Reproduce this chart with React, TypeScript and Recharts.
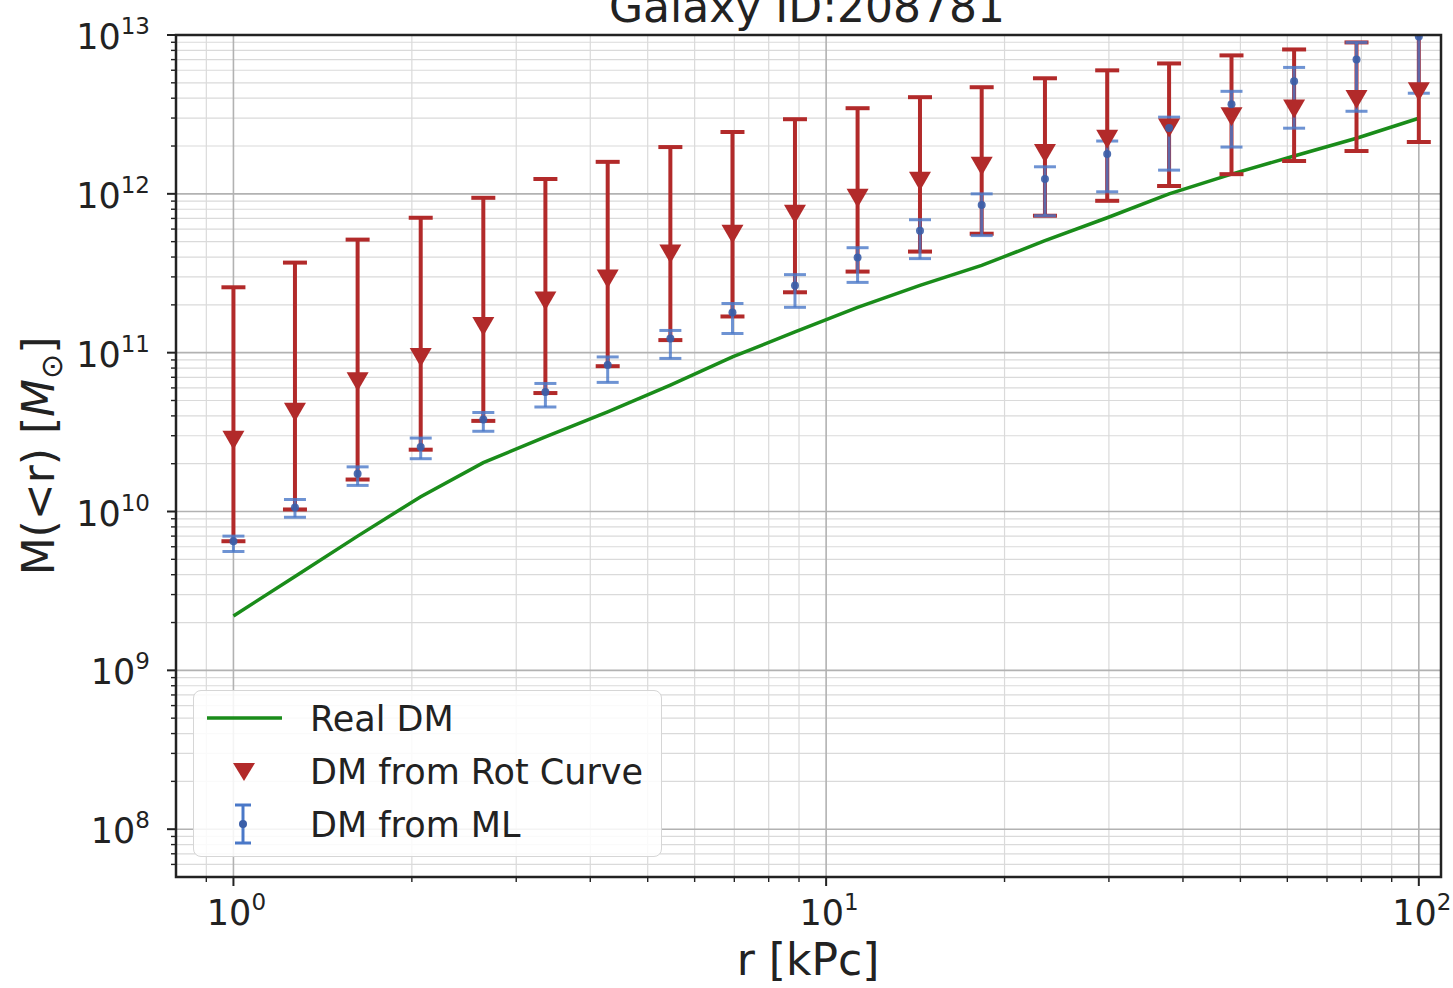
import React from "react";
import {
  CartesianGrid,
  ComposedChart,
  ErrorBar,
  Line,
  ReferenceArea,
  Scatter,
  XAxis,
  YAxis,
} from "recharts";

// radius grid (kPc), 20 log-spaced points between 1 and 100
const radius = [
  1, 1.27, 1.62, 2.07, 2.64, 3.36, 4.28, 5.46, 6.95, 8.86, 11.3, 14.4, 18.3,
  23.4, 29.8, 37.9, 48.3, 61.6, 78.5, 100,
];

// true dark matter mass M(<r)
const realDM = [
  2.2e9, 3.9e9, 7.0e9, 1.24e10, 2.03e10, 2.95e10, 4.24e10, 6.25e10, 9.4e10,
  1.35e11, 1.93e11, 2.65e11, 3.54e11, 5.07e11, 7.07e11, 1.0e12, 1.33e12,
  1.73e12, 2.24e12, 2.99e12,
];

// rotation curve estimate with lower / upper bounds
const rotCurve = [
  2.83e10, 4.24e10, 6.6e10, 9.4e10, 1.47e11, 2.13e11, 2.93e11, 4.21e11,
  5.61e11, 7.5e11, 9.44e11, 1.21e12, 1.5e12, 1.81e12, 2.22e12, 2.62e12,
  3.08e12, 3.44e12, 3.96e12, 4.42e12,
];
const rotLow = [
  6.5e9, 1.03e10, 1.59e10, 2.45e10, 3.72e10, 5.57e10, 8.22e10, 1.2e11, 1.69e11,
  2.4e11, 3.24e11, 4.33e11, 5.61e11, 7.28e11, 9.04e11, 1.12e12, 1.33e12,
  1.61e12, 1.86e12, 2.12e12,
];
const rotHigh = [
  2.58e11, 3.69e11, 5.15e11, 7.07e11, 9.44e11, 1.24e12, 1.59e12, 1.97e12,
  2.45e12, 2.95e12, 3.46e12, 4.06e12, 4.69e12, 5.34e12, 5.99e12, 6.62e12,
  7.44e12, 8.11e12, 8.98e12, 1.1e13,
];

// machine learning estimate with lower / upper bounds
const mlMass = [
  6.5e9, 1.06e10, 1.73e10, 2.55e10, 3.8e10, 5.65e10, 8.35e10, 1.23e11, 1.79e11,
  2.65e11, 3.97e11, 5.86e11, 8.5e11, 1.24e12, 1.78e12, 2.6e12, 3.66e12,
  5.11e12, 7.02e12, 9.8e12,
];
const mlLow = [
  5.6e9, 9.2e9, 1.46e10, 2.15e10, 3.2e10, 4.55e10, 6.5e10, 9.2e10, 1.32e11,
  1.93e11, 2.77e11, 3.91e11, 5.46e11, 7.28e11, 1.03e12, 1.41e12, 1.97e12,
  2.59e12, 3.31e12, 4.3e12,
];
const mlHigh = [
  7.0e9, 1.19e10, 1.91e10, 2.9e10, 4.2e10, 6.4e10, 9.4e10, 1.38e11, 2.04e11,
  3.1e11, 4.58e11, 6.87e11, 1.0e12, 1.48e12, 2.15e12, 3.04e12, 4.42e12,
  6.25e12, 8.98e12, 1.5e13,
];

const xMajor = [1, 10, 100];
const yMajor = [1e8, 1e9, 1e10, 1e11, 1e12, 1e13];
const X_DOMAIN = [0.8, 109];
const Y_DOMAIN = [5e7, 1e13];

function minorTicks(decades: number[], lo: number, hi: number) {
  const out: number[] = [];
  decades.forEach((d) => {
    for (let m = 2; m <= 9; m++) {
      const v = m * d;
      if (v > lo && v < hi) out.push(v);
    }
  });
  return out;
}

const xMinor = minorTicks([0.1, 1, 10], X_DOMAIN[0], X_DOMAIN[1]);
const yMinor = minorTicks([1e7, 1e8, 1e9, 1e10, 1e11, 1e12], Y_DOMAIN[0], Y_DOMAIN[1]);

const RED = "#b22a2a";
const BLUE = "#4a78c8";
const BLUE_DOT = "#3a5ea8";
const GREEN = "#1a8c1a";
const INK = "#222";
const FONT = "DejaVu Sans, sans-serif";

const data = radius.map((r, i) => ({
  r,
  real: realDM[i],
  rot: rotCurve[i],
  rotErr: [rotCurve[i] - rotLow[i], rotHigh[i] - rotCurve[i]],
  ml: mlMass[i],
  mlErr: [mlMass[i] - mlLow[i], mlHigh[i] - mlMass[i]],
}));

function isMajor(v: number) {
  const l = Math.log10(v);
  return Math.abs(l - Math.round(l)) < 1e-6;
}

function YTick(props: any) {
  const { x, y, payload } = props;
  const v = payload.value;
  const major = isMajor(v);
  return (
    <g>
      <line x1={x} x2={x - (major ? 9 : 5)} y1={y} y2={y} stroke={INK} strokeWidth={major ? 2 : 1.4} />
      {major && (
        <text x={x - 26} y={y + 14} textAnchor="end" fontSize={35} fill={INK} fontFamily={FONT}>
          10
          <tspan dy={-15} fontSize={23}>
            {Math.round(Math.log10(v))}
          </tspan>
        </text>
      )}
    </g>
  );
}

function XTick(props: any) {
  const { x, y, payload } = props;
  const v = payload.value;
  const major = isMajor(v);
  return (
    <g>
      <line x1={x} x2={x} y1={y} y2={y + (major ? 9 : 5)} stroke={INK} strokeWidth={major ? 2 : 1.4} />
      {major && (
        <text x={x + 3} y={y + 48} textAnchor="middle" fontSize={35} fill={INK} fontFamily={FONT}>
          10
          <tspan dy={-15} fontSize={23}>
            {Math.round(Math.log10(v))}
          </tspan>
        </text>
      )}
    </g>
  );
}

function Triangle(props: any) {
  const { cx, cy } = props;
  if (cx == null || cy == null) return null;
  return <path d={`M${cx - 11},${cy - 9}L${cx + 11},${cy - 9}L${cx},${cy + 10}Z`} fill={RED} />;
}

function Dot(props: any) {
  const { cx, cy } = props;
  if (cx == null || cy == null) return null;
  return <circle cx={cx} cy={cy} r={4} fill={BLUE_DOT} fillOpacity={0.9} />;
}

function LegendBox() {
  return (
    <div
      style={{
        position: "absolute",
        left: 193,
        top: 690,
        width: 469,
        height: 167,
        boxSizing: "border-box",
        border: "1.5px solid #d6d6d6",
        borderRadius: 8,
        background: "rgba(255,255,255,0.85)",
      }}
    >
      <svg width={466} height={164} style={{ display: "block" }}>
        <line x1={13} x2={88} y1={27} y2={27} stroke={GREEN} strokeWidth={3.5} />
        <path d="M39,72L61,72L50,90Z" fill={RED} />
        <line x1={49} x2={49} y1={114} y2={152} stroke={BLUE} strokeWidth={3} />
        <line x1={41} x2={57} y1={114} y2={114} stroke={BLUE} strokeWidth={3} />
        <line x1={41} x2={57} y1={152} y2={152} stroke={BLUE} strokeWidth={3} />
        <circle cx={49} cy={133} r={4} fill={BLUE_DOT} />
        <g fontFamily={FONT} fontSize={35} fill={INK}>
          <text x={116} y={40}>Real DM</text>
          <text x={116} y={93}>DM from Rot Curve</text>
          <text x={116} y={146}>DM from ML</text>
        </g>
      </svg>
    </div>
  );
}

export default function App() {
  return (
    <div style={{ position: "absolute", left: 0, top: 0, width: 1453, height: 988, background: "#fff", overflow: "hidden" }}>
      <ComposedChart
        width={1453}
        height={988}
        data={data}
        margin={{ top: 35, right: 12, bottom: 11, left: 0 }}
      >
        <CartesianGrid horizontalValues={yMinor} verticalValues={xMinor} stroke="#dadada" strokeWidth={1.2} />
        <CartesianGrid horizontalValues={yMajor} verticalValues={xMajor} stroke="#b2b2b2" strokeWidth={1.6} />
        <XAxis
          dataKey="r"
          type="number"
          scale="log"
          domain={X_DOMAIN}
          allowDataOverflow
          ticks={[...xMinor, ...xMajor].sort((a, b) => a - b)}
          interval={0}
          height={100}
          tickSize={0}
          tickMargin={0}
          tickLine={false}
          axisLine={false}
          tick={<XTick />}
        />
        <YAxis
          type="number"
          scale="log"
          domain={Y_DOMAIN}
          allowDataOverflow
          ticks={[...yMinor, ...yMajor].sort((a, b) => a - b)}
          interval={0}
          width={176}
          tickSize={0}
          tickMargin={0}
          tickLine={false}
          axisLine={false}
          tick={<YTick />}
        />
        <Line
          type="linear"
          dataKey="real"
          stroke={GREEN}
          strokeWidth={3.5}
          dot={false}
          activeDot={false}
          isAnimationActive={false}
        />
        <Scatter dataKey="rot" shape={<Triangle />} isAnimationActive={false}>
          <ErrorBar dataKey="rotErr" direction="y" width={12} stroke={RED} strokeWidth={4} />
        </Scatter>
        <Scatter dataKey="ml" shape={<Dot />} isAnimationActive={false}>
          <ErrorBar dataKey="mlErr" direction="y" width={11} stroke={BLUE} strokeWidth={3} strokeOpacity={0.8} />
        </Scatter>
      </ComposedChart>
      <svg
        width={1453}
        height={988}
        style={{ position: "absolute", left: 0, top: 0, pointerEvents: "none" }}
        fontFamily={FONT}
        fill={INK}
      >
        {/* hide error bars that run past the top of the axes */}
        <rect x={176} y={0} width={1268} height={34} fill="#fff" />
        <rect x={176} y={35} width={1265} height={842} fill="none" stroke={INK} strokeWidth={2.5} />
        <text x={807} y={22} textAnchor="middle" fontSize={44}>
          Galaxy ID:208781
        </text>
        <text x={808} y={975} textAnchor="middle" fontSize={44}>
          r [kPc]
        </text>
        <text x={54} y={456} textAnchor="middle" fontSize={44} transform="rotate(-90 54 456)">
          M(&lt;r) [<tspan fontStyle="italic">M</tspan>
          <tspan dy={8} fontSize={30}>⊙</tspan>
          <tspan dy={-8}>]</tspan>
        </text>
      </svg>
      <LegendBox />
    </div>
  );
}
